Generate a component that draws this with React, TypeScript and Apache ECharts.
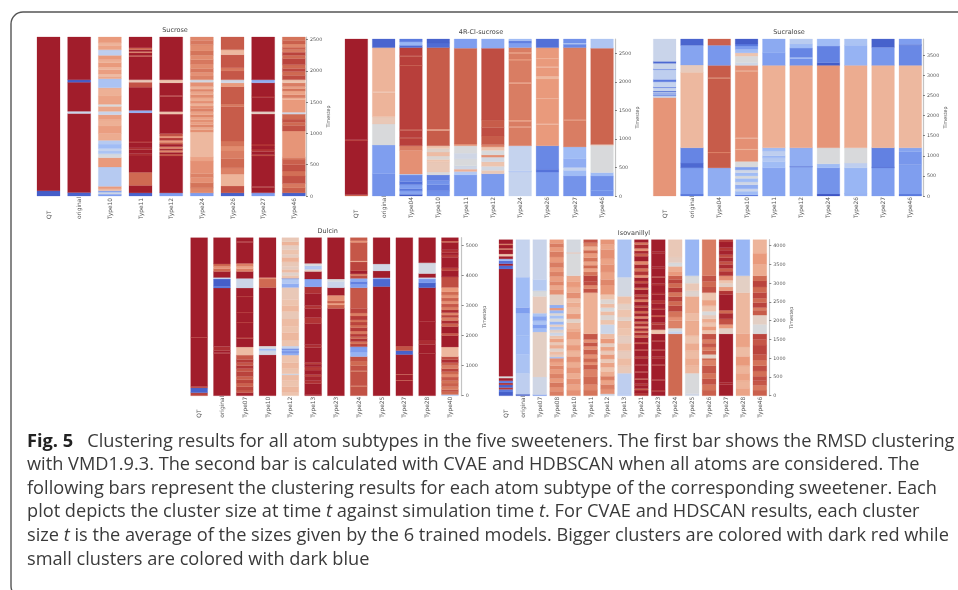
import React, { useEffect, useRef } from "react";
import * as echarts from "echarts";

type Seg = number[][];

const sucroseCats = ["QT", "original", "Type10", "Type11", "Type12", "Type24", "Type26", "Type27", "Type46"];
const sucroseTicks = [0, 500, 1000, 1500, 2000, 2500];
const sucroseBars: Seg[] = [
  [[0, .02], [85, 1]],
  [[0, .04], [55, 1], [1320, .42], [1355, 1], [1820, .02], [1860, 1]],
  [[0, .2], [30, .45], [60, .22], [85, .62], [115, .7], [155, .36], [464, .7], [613, .48], [677, .33], [720, .4], [760, .3], [830, .36], [890, .66], [1000, .69], [1120, .65], [1220, .69], [1300, .42], [1354, .67], [1434, .5], [1466, .68], [1600, .65], [1732, .33], [1876, .67], [1915, .62], [1950, .69], [2020, .64], [2060, .7], [2130, .65], [2180, .7], [2250, .38], [2340, .68], [2400, .64], [2450, .7]],
  [[0, .04], [50, 1], [170, .8], [380, 1], [640, .95], [680, 1], [740, .93], [770, 1], [850, .93], [880, 1], [1330, .25], [1370, 1], [1740, .85], [1820, .58], [1860, 1], [2230, .85], [2250, 1], [2290, .76], [2310, 1], [2340, .8], [2370, 1]],
  [[0, .2], [50, 1], [640, .84], [670, 1], [700, .74], [730, .95], [760, .74], [790, 1], [830, .82], [860, .7], [890, .9], [930, .72], [960, .85], [1000, 1], [1310, .6], [1350, 1], [1590, .9], [1610, 1], [1810, .6], [1860, 1]],
  [[0, .2], [50, .74], [130, .78], [210, .72], [300, .75], [360, .72], [560, .68], [624, .63], [1023, .72], [1060, .67], [1100, .74], [1140, .69], [1180, .72], [1220, .68], [1260, .74], [1300, .68], [1350, .75], [1400, .72], [1440, .65], [1480, .72], [1520, .66], [1570, .73], [1620, .67], [1670, .74], [1710, .64], [1750, .72], [1820, .47], [1860, .75], [1920, .72], [1980, .77], [2040, .73], [2110, .77], [2180, .73], [2250, .78], [2320, .73], [2420, .77], [2490, .74]],
  [[0, .03], [50, .85], [160, .64], [350, .75], [450, .8], [600, .76], [720, .73], [800, .78], [880, .83], [1430, .77], [1470, .83], [1750, .7], [1810, .45], [1860, .84], [2000, .77], [2050, .84], [2260, .63], [2340, .83]],
  [[0, .2], [50, 1], [130, .92], [150, 1], [640, .85], [660, 1], [710, .92], [750, 1], [800, .92], [830, 1], [1310, .55], [1350, 1], [1580, .93], [1600, 1], [1810, .25], [1860, 1]],
  [[0, .03], [50, .82], [130, .77], [200, .85], [320, .79], [400, .85], [500, .82], [590, .76], [620, .71], [1040, .85], [1130, .8], [1180, .85], [1230, .8], [1310, .45], [1340, .7], [1540, .65], [1570, .76], [1620, .68], [1680, .78], [1720, .68], [1750, .76], [1810, .6], [1860, .86], [1930, .8], [1990, .87], [2040, .8], [2100, .88], [2200, .8], [2250, .88], [2300, .76], [2340, .82], [2380, .74], [2430, .82], [2490, .78]],
];

const chlCats = ["QT", "original", "Type04", "Type10", "Type11", "Type12", "Type24", "Type26", "Type27", "Type46"];
const chlTicks = [0, 500, 1000, 1500, 2000, 2500];
const chlBars: Seg[] = [
  [[0, .8], [20, 1], [965, .9], [985, 1]],
  [[0, .17], [390, .2], [893, .5], [1261, .58], [1390, .64], [1810, .6], [1825, .64], [2600, .04]],
  [[0, .02], [30, .22], [90, .1], [130, .2], [200, .08], [250, .14], [368, .35], [385, .72], [800, .76], [880, .89], [1000, .85], [1020, .89], [1150, .84], [1170, .89], [2280, .84], [2295, .89], [2440, .84], [2455, .89], [2600, .05], [2640, .28], [2700, .1]],
  [[0, .16], [90, .12], [200, .17], [270, .12], [370, .5], [420, .58], [600, .6], [640, .52], [700, .62], [770, .54], [830, .6], [880, .83], [1150, .65], [1170, .83], [2600, .06], [2680, .03]],
  [[0, .19], [370, .35], [430, .65], [470, .45], [530, .5], [650, .45], [750, .5], [880, .72], [910, .81], [2590, .2]],
  [[0, .19], [390, .58], [450, .47], [520, .6], [600, .47], [680, .72], [720, .5], [800, .6], [860, .75], [900, .83], [1050, .86], [1200, .83], [1330, .86], [2590, .24]],
  [[0, .4], [425, .33], [440, .4], [880, .76], [1200, .72], [1220, .76], [1310, .67], [1330, .76], [1970, .7], [1990, .76], [2380, .7], [2400, .76], [2500, .7], [2520, .76], [2600, .2], [2680, .12], [2720, .3]],
  [[0, .19], [420, .08], [470, .14], [880, .7], [1250, .64], [1265, .7], [1700, .64], [1715, .7], [2050, .63], [2100, .7], [2250, .64], [2265, .7], [2400, .64], [2415, .7], [2600, .07]],
  [[0, .17], [350, .3], [450, .4], [500, .25], [650, .3], [860, .76], [1320, .72], [1335, .76], [2600, .14], [2660, .35], [2680, .16]],
  [[0, .16], [90, .2], [105, .16], [350, .3], [410, .5], [880, .55], [900, .81], [2590, .34]],
];

const sucraloseCats = ["QT", "original", "Type04", "Type10", "Type11", "Type12", "Type24", "Type26", "Type27", "Type46"];
const sucraloseTicks = [0, 500, 1000, 1500, 2000, 2500, 3000, 3500];
const sucraloseBars: Seg[] = [
  [[0, .71], [2450, .4], [2490, .1], [2510, .4], [2530, .1], [2555, .4], [2585, .05], [2610, .4], [2695, .1], [2715, .4], [2840, .1], [2900, .38], [3145, .12], [3165, .42], [3300, .05], [3350, .42]],
  [[0, .1], [50, .2], [700, .05], [820, .13], [1200, .63], [3075, .57], [3258, .22], [3747, .04]],
  [[0, .25], [700, .83], [1070, .74], [1095, .83], [2920, .75], [2945, .83], [3250, .18], [3750, .82]],
  [[0, .1], [30, .3], [120, .42], [180, .25], [280, .45], [350, .3], [440, .5], [500, .3], [580, .45], [650, .2], [720, .5], [860, .72], [1150, .65], [1170, .72], [1430, .65], [1450, .72], [3100, .65], [3120, .72], [3250, .45], [3320, .5], [3480, .6], [3560, .3], [3650, .2], [3730, .1], [3780, .02]],
  [[0, .22], [700, .3], [850, .35], [950, .28], [1000, .38], [1120, .3], [1200, .65], [3250, .2], [3560, .24]],
  [[0, .24], [720, .05], [740, .25], [1200, .67], [3250, .16], [3420, .3], [3450, .13], [3680, .3], [3780, .37]],
  [[0, .0], [50, .17], [700, .3], [800, .5], [1200, .71], [3250, .02], [3320, .12], [3730, .3]],
  [[0, .28], [50, .2], [65, .28], [700, .38], [820, .5], [1200, .66], [3250, .27], [3750, .33]],
  [[0, .2], [700, .05], [720, .12], [1200, .64], [3250, .18], [3700, .03]],
  [[0, .1], [50, .2], [780, .18], [1100, .22], [1200, .63], [3250, .14], [3750, .05], [3770, .2]],
];

const dulcinCats = ["QT", "original", "Type07", "Type10", "Type12", "Type13", "Type23", "Type24", "Type25", "Type27", "Type28", "Type40"];
const dulcinTicks = [0, 1000, 2000, 3000, 4000, 5000];
const dulcinBars: Seg[] = [
  [[0, .88], [100, .03], [260, .88], [310, 1], [1930, .9], [1950, 1]],
  [[0, 1], [1400, .94], [1430, 1], [1500, .94], [1640, 1], [3580, .1], [3640, .02], [3880, .4], [3930, 1], [4130, .8], [4220, .72], [4300, .8], [4380, 1]],
  [[0, .98], [100, .84], [190, .88], [300, .82], [420, .88], [530, .82], [640, .88], [800, .84], [900, .92], [1000, .84], [1100, .9], [1200, .84], [1350, .62], [1620, 1], [1900, .92], [1950, 1], [2420, .9], [2450, 1], [2750, .9], [2780, 1], [3280, .9], [3310, 1], [3580, .43], [3900, 1], [4130, .75], [4220, .68], [4300, .75], [4400, 1], [5100, .9], [5130, 1]],
  [[0, 1], [1360, .45], [1500, .3], [1570, .5], [1650, 1], [3600, .8], [3880, .72], [3930, 1]],
  [[0, .6], [120, .63], [300, .6], [500, .62], [690, .45], [730, .6], [900, .63], [1100, .6], [1350, .25], [1430, .12], [1480, .28], [1530, .1], [1570, .4], [1650, .6], [1850, .63], [2100, .6], [2300, .62], [2550, .58], [2800, .63], [3000, .6], [3200, .58], [3600, .25], [3720, .35], [3880, .1], [3900, .6], [4000, .54], [4100, .62], [4200, .56], [4300, .58], [4450, .64], [4600, .56], [4700, .6], [4850, .56], [5000, .64], [5120, .58]],
  [[0, .98], [50, 1], [400, .93], [500, .97], [650, .88], [700, 1], [850, .9], [960, 1], [1050, .88], [1100, 1], [1600, .94], [1700, 1], [2400, .92], [2600, 1], [2900, .92], [3000, 1], [3400, .93], [3620, .22], [3880, 1], [4130, .55], [4200, .35], [4320, .5], [4400, 1]],
  [[0, 1], [2900, .82], [3020, .7], [3080, .82], [3150, .72], [3340, 1], [3590, .42], [3800, .5], [3880, 1]],
  [[0, .85], [300, .78], [330, .85], [800, .78], [830, .85], [1000, .8], [1150, .85], [1300, .27], [1450, .2], [1630, .88], [1720, .78], [1800, .92], [1900, .8], [1960, .9], [2050, .77], [2150, .9], [2260, .8], [2350, .88], [2450, .78], [2520, .9], [2650, .76], [2750, .88], [2900, .84], [3590, .2], [3700, .12], [3800, .24], [3900, .86], [4000, .76], [4050, 1], [4150, .88], [4450, .65], [4480, .84], [5100, .7], [5150, .83]],
  [[0, 1], [3630, .05], [3880, .3], [3920, 1], [4150, .45], [4380, 1]],
  [[0, 1], [500, .82], [520, 1], [700, .82], [720, 1], [1370, .03], [1500, .85], [1650, 1]],
  [[0, 1], [1400, .95], [1420, 1], [1700, .95], [1850, 1], [2450, .94], [2470, 1], [3590, .03], [3750, .18], [3880, .4], [3930, 1], [4060, .47], [4420, 1]],
  [[0, .35], [40, .8], [130, .85], [200, .76], [300, .82], [420, .78], [500, .84], [620, .74], [720, .8], [800, .88], [900, .76], [1000, .82], [1100, .94], [1200, .86], [1300, .63], [1620, 1], [2000, .84], [2080, 1], [2300, .82], [2400, .95], [2500, .76], [2600, .88], [2680, .74], [2760, .95], [2850, .76], [2950, .84], [3050, .72], [3150, .82], [3250, .72], [3350, .8], [3450, .7], [3600, .86], [3950, 1], [4150, .88], [4250, 1], [4600, .9], [4680, 1], [4750, .93], [4850, 1], [5100, .78], [5140, 1]],
];

const isoCats = ["QT", "original", "Type07", "Type08", "Type10", "Type11", "Type12", "Type13", "Type21", "Type23", "Type24", "Type25", "Type26", "Type27", "Type28", "Type46"];
const isoTicks = [0, 500, 1000, 1500, 2000, 2500, 3000, 3500, 4000];
const isoBars: Seg[] = [
  [[0, .02], [100, .1], [170, .9], [220, .04], [290, .92], [340, .12], [400, 1], [470, .5], [520, 1], [3380, .06], [3470, 1], [3520, .08], [3600, .3], [3650, 1], [3720, .6], [3780, 1], [3900, .75], [3930, 1], [4020, .75], [4050, 1]],
  [[0, .01], [40, .38], [600, .33], [1100, .3], [1600, .29], [2200, .2], [2350, .3], [3160, .4]],
  [[0, .2], [30, .45], [500, .55], [1700, .3], [1800, .2], [1900, .33], [2000, .22], [2120, .33], [2200, .57], [2650, .5], [2800, .36], [3100, .42]],
  [[0, .76], [120, .72], [230, .77], [350, .7], [460, .75], [580, .7], [700, .74], [800, .68], [900, .72], [1000, .3], [1030, .56], [1090, .62], [1180, .54], [1260, .66], [1350, .58], [1430, .68], [1520, .6], [1600, .44], [1680, .55], [1760, .34], [1840, .56], [1900, .28], [1980, .5], [2060, .32], [2140, .52], [2200, .28], [2280, .7], [2340, .25], [2420, .55], [2700, .72], [2820, .67], [2950, .74], [3050, .69], [3180, .75], [3300, .7], [3420, .76], [3560, .7], [3700, .76], [3840, .7], [3960, .76], [4060, .7]],
  [[0, .72], [150, .68], [300, .72], [450, .66], [600, .71], [760, .66], [900, .72], [1050, .64], [1200, .7], [1350, .64], [1500, .7], [1700, .66], [1800, .63], [1950, .54], [2050, .7], [2180, .62], [2350, .66], [2480, .62], [2600, .72], [2750, .66], [2900, .7], [3050, .66], [3200, .5], [3800, .64], [3820, .48]],
  [[0, .78], [150, .74], [300, .8], [500, .75], [700, .82], [820, .72], [900, .8], [1000, .72], [1100, .82], [1230, .72], [1320, .84], [1420, .72], [1500, .84], [1650, .65], [2750, .85], [2850, .74], [2950, .86], [3050, .88], [3200, .78], [3300, .68], [3400, .8], [3480, .68], [3580, .78], [3680, .7], [3800, .8], [3880, .66], [3980, .76], [4080, .85]],
  [[0, .45], [50, .72], [180, .76], [300, .68], [420, .76], [520, .66], [650, .6], [760, .68], [880, .58], [980, .7], [1100, .58], [1200, .68], [1300, .56], [1400, .7], [1520, .62], [1650, .43], [1900, .6], [2020, .52], [2150, .62], [2250, .5], [2350, .62], [2450, .52], [2570, .6], [2700, .7], [2950, .74], [3100, .68], [3300, .72], [3500, .68], [3650, .72], [3900, .67], [4030, .71]],
  [[0, .35], [40, .38], [600, .58], [800, .62], [1000, .57], [1200, .62], [1400, .56], [1600, .6], [1800, .62], [2000, .54], [2100, .6], [2300, .55], [2450, .61], [2650, .47], [3160, .33]],
  [[0, .92], [70, 1], [150, .82], [190, 1], [280, .9], [320, 1], [430, .85], [460, 1], [620, .9], [650, 1], [800, .94], [830, 1], [1000, .88], [1040, 1], [1200, .9], [1240, 1], [1380, .84], [1420, 1], [1550, .8], [1610, .94], [1680, .76], [1730, .96], [1800, .72], [1850, .95], [1930, .78], [1980, 1], [2060, .74], [2120, .98], [2200, .8], [2260, 1], [2350, .85], [2400, 1], [2500, .76], [2570, .95], [2650, .85], [2700, 1], [2830, .78], [2880, 1], [3000, .85], [3060, 1], [3150, .72], [3220, .92], [3320, .78], [3400, .96], [3500, .74], [3590, 1], [3720, .82], [3790, .96], [3860, .72], [3930, .95], [4030, .78], [4090, 1]],
  [[0, 1], [120, .9], [150, 1], [400, .92], [430, 1], [800, .9], [830, 1], [1000, .92], [1040, 1], [1200, .9], [1230, 1], [1450, .92], [1480, 1], [1650, .6], [1760, .95], [1900, .88], [1950, 1], [2100, .85], [2150, 1], [2300, .9], [2340, 1], [2450, .92], [2550, 1], [2700, .92], [2740, 1], [2950, .92], [2990, 1], [3150, .88], [3180, 1], [3400, .94], [3440, 1], [3800, .94], [3840, 1]],
  [[0, .8], [1650, .4], [1720, .5], [1800, .75], [2000, .72], [2100, .78], [2250, .88], [2400, .8], [2520, .88], [2640, .78], [2760, .9], [2880, .8], [3000, .88], [3100, .82], [3200, .7], [3300, .66], [3450, .5], [3550, .56], [3700, .58]],
  [[0, .45], [60, .5], [600, .63], [800, .66], [1000, .62], [1200, .66], [1400, .6], [1600, .66], [2000, .62], [2200, .66], [2650, .53], [2800, .58], [3000, .5], [3200, .28]],
  [[0, .82], [150, .78], [300, .85], [450, .78], [600, .84], [800, .75], [950, .8], [1000, .55], [1100, .82], [1200, .76], [1300, .84], [1400, .76], [1500, .85], [1650, .6], [1750, .7], [1850, .6], [1950, .66], [2050, .57], [2150, .5], [2250, .6], [2400, .68], [2550, .6], [2750, .85], [2900, .8], [3050, .85], [3200, .76]],
  [[0, 1], [300, .96], [350, 1], [1650, .55], [1800, .7], [1900, .85], [2050, .95], [2200, .8], [2280, 1], [2700, .92], [2800, .7], [2900, .55], [3000, .6], [3080, .72], [3200, .92], [3320, .82], [3400, .95], [3500, .85], [3580, .95], [3680, .86], [3760, .98], [3880, .9], [3950, 1], [4100, .9]],
  [[0, .68], [200, .64], [400, .68], [600, .64], [800, .7], [1050, .62], [1300, .68], [1650, .63], [2750, .55], [3200, .28]],
  [[0, .82], [150, .77], [280, .84], [400, .86], [520, .79], [660, .86], [800, .78], [950, .84], [1100, .88], [1350, .84], [1500, .88], [1650, .5], [1900, .55], [2150, .83], [2280, .76], [2350, .88], [2480, .8], [2600, .87], [2750, .8], [2900, .88], [3060, .8], [3200, .66], [3500, .7], [3800, .64]],
];

const captionLines = [
  "{b|Fig. 5}   Clustering results for all atom subtypes in the five sweeteners. The first bar shows the RMSD clustering",
  "with VMD1.9.3. The second bar is calculated with CVAE and HDBSCAN when all atoms are considered. The",
  "following bars represent the clustering results for each atom subtype of the corresponding sweetener. Each",
  "plot depicts the cluster size at time {i|t} against simulation time {i|t}. For CVAE and HDSCAN results, each cluster",
  "size {i|t} is the average of the sizes given by the 6 trained models. Bigger clusters are colored with dark red while",
  "small clusters are colored with dark blue",
];

const colorStops: [number, number[]][] = [
  [0, [63, 87, 196]],
  [.1, [91, 122, 223]],
  [.2, [127, 158, 239]],
  [.3, [160, 188, 245]],
  [.4, [197, 211, 238]],
  [.5, [216, 217, 219]],
  [.6, [237, 196, 174]],
  [.65, [237, 176, 149]],
  [.7, [233, 154, 124]],
  [.8, [207, 106, 82]],
  [.9, [181, 58, 56]],
  [1, [161, 29, 43]],
];

function levelColor(v: number) {
  for (let i = 1; i < colorStops.length; i++) {
    const [b, cb] = colorStops[i];
    if (v <= b) {
      const [a, ca] = colorStops[i - 1];
      const t = (v - a) / (b - a);
      const c = ca.map((x, k) => Math.round(x + (cb[k] - x) * t));
      return `rgb(${c[0]},${c[1]},${c[2]})`;
    }
  }
  return "rgb(161,29,43)";
}

const TEXT = "#555";
const CAPTION_SIZE = 18.2;
const panels = [
  { title: "Sucrose", cats: sucroseCats, bars: sucroseBars, ticks: sucroseTicks, max: 2543, left: 33.17, top: 37, w: 276, h: 159, axisX: 306, ratio: .75, titleX: 175, titleY: 30, margin: 23 },
  { title: "4R-Cl-sucrose", cats: chlCats, bars: chlBars, ticks: chlTicks, max: 2750, left: 342.7, top: 39, w: 273, h: 157, axisX: 615, ratio: .83, titleX: 481, titleY: 32, margin: 22 },
  { title: "Sucralose", cats: sucraloseCats, bars: sucraloseBars, ticks: sucraloseTicks, max: 3905, left: 651, top: 39, w: 273, h: 157, axisX: 923, ratio: .83, titleX: 789, titleY: 32, margin: 22 },
  { title: "Dulcin", cats: dulcinCats, bars: dulcinBars, ticks: dulcinTicks, max: 5252, left: 187.75, top: 237.7, w: 273.6, h: 158, axisX: 461.7, ratio: .74, titleX: 327.7, titleY: 231, margin: 22 },
  { title: "Isovanillyl", cats: isoCats, bars: isoBars, ticks: isoTicks, max: 4160, left: 497.43, top: 239.7, w: 270.9, h: 156, axisX: 769.3, ratio: .815, titleX: 634, titleY: 233, margin: 22 },
];

function plotOption() {
  const grid: any[] = [], xAxis: any[] = [], yAxis: any[] = [], series: any[] = [];
  const graphic: any[] = [];
  panels.forEach((p, idx) => {
    grid.push({ left: p.left, top: p.top, width: p.w, height: p.h });
    graphic.push({
      type: "text", x: p.titleX, y: p.titleY,
      style: { text: p.title, align: "center", verticalAlign: "middle", fontFamily: "DejaVu Sans", fontSize: 6.5, fill: "#444" },
    });
    xAxis.push({
      type: "category", gridIndex: idx, data: p.cats, boundaryGap: true,
      axisLine: { show: false }, axisTick: { show: false },
      axisLabel: { interval: 0, rotate: 90, align: "left", verticalAlign: "middle", margin: p.margin, fontFamily: "DejaVu Sans", fontSize: 5.9, color: TEXT },
    });
    yAxis.push({
      type: "value", gridIndex: idx, position: "right", min: 0, max: p.max, offset: p.axisX - (p.left + p.w),
      name: "Timestep", nameLocation: "middle", nameRotate: 90, nameGap: 14,
      nameTextStyle: { fontFamily: "DejaVu Sans", fontSize: 4.8, color: TEXT },
      splitLine: { show: false },
      axisLine: { show: true, lineStyle: { color: "#c4c4c4", width: 1.2 } },
      axisTick: { show: true, length: 2, lineStyle: { color: "#555", width: .7 }, customValues: p.ticks },
      axisLabel: { margin: 4, fontFamily: "DejaVu Sans", fontSize: 4.8, color: TEXT, customValues: p.ticks, formatter: (v: number) => String(v) },
    });
    const data: number[][] = [];
    p.bars.forEach((segs, b) => {
      segs.forEach((s, k) => {
        const end = k + 1 < segs.length ? segs[k + 1][0] : p.max;
        data.push([b, s[0], end, s[1]]);
      });
    });
    series.push({
      type: "custom", xAxisIndex: idx, yAxisIndex: idx, silent: true,
      encode: { x: 0, y: [1, 2] }, data,
      renderItem: (_: any, api: any) => {
        const b = api.value(0);
        const a0 = api.coord([b, api.value(1)]);
        const a1 = api.coord([b, api.value(2)]);
        const w = api.size([1, 0])[0] * p.ratio;
        const fill = levelColor(api.value(3));
        return {
          type: "rect",
          shape: { x: a0[0] - w / 2, y: a1[1], width: w, height: a0[1] - a1[1] },
          style: { fill, stroke: fill, lineWidth: .25 },
        };
      },
    });
  });
  return { animation: false, backgroundColor: "#fff", grid, xAxis, yAxis, series, graphic };
}

function captionOption() {
  const graphic: any[] = [
    { type: "rect", shape: { x: 11, y: 12, width: 1000, height: 586, r: 12 }, style: { fill: "none", stroke: "#555", lineWidth: 1.4 } },
  ];
  captionLines.forEach((line, i) => {
    graphic.push({
      type: "text", x: 27, y: 439.5 + i * 23.6,
      style: {
        text: line, fontFamily: "Open Sans", fontSize: CAPTION_SIZE, fill: "#3a3a3a", verticalAlign: "middle",
        rich: {
          b: { fontFamily: "Open Sans", fontSize: CAPTION_SIZE, fontWeight: "bold", fill: "#222" },
          i: { fontFamily: "Open Sans", fontSize: CAPTION_SIZE, fontStyle: "italic", fill: "#3a3a3a" },
        },
      },
    });
  });
  return { animation: false, graphic };
}

export default function App() {
  const plotRef = useRef<HTMLDivElement>(null);
  const capRef = useRef<HTMLDivElement>(null);
  useEffect(() => {
    const plot = echarts.init(plotRef.current!, undefined, { renderer: "svg" });
    plot.setOption(plotOption() as any);
    const cap = echarts.init(capRef.current!, undefined, { renderer: "svg" });
    cap.setOption(captionOption() as any);
    return () => {
      plot.dispose();
      cap.dispose();
    };
  }, []);
  return (
    <>
      <div ref={plotRef} style={{ position: "fixed", left: 0, top: 0, width: 958, height: 590, filter: "blur(0.6px)" }} />
      <div ref={capRef} style={{ position: "fixed", left: 0, top: 0, width: 958, height: 590 }} />
    </>
  );
}
